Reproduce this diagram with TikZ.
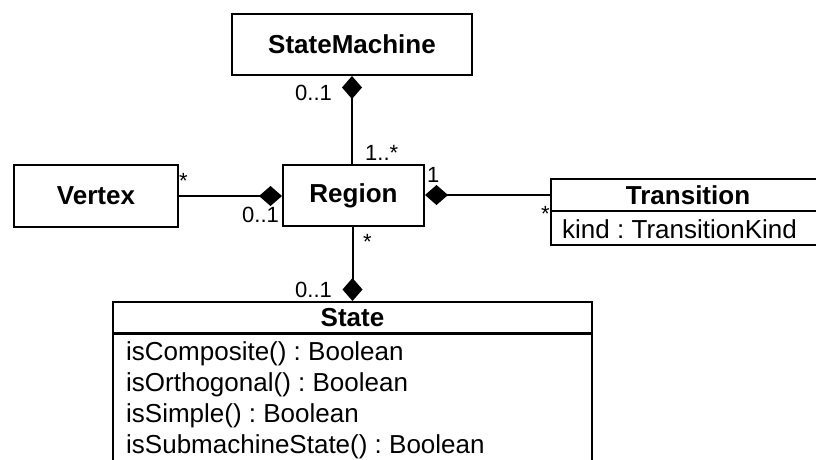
\documentclass[tikz,border=0pt]{standalone}
\usepackage{fontspec}
\setmainfont{Liberation Sans}
\usetikzlibrary{arrows.meta}
\frenchspacing
\tikzset{
  cls/.style={draw, line width=2pt, inner sep=0pt, font=\fontsize{26}{30}\selectfont\bfseries},
  part/.style={draw, line width=2pt, inner sep=0pt},
  attr/.style={inner sep=0pt, font=\fontsize{26}{30}\selectfont},
  lab/.style={inner sep=0pt, font=\fontsize{22}{26}\selectfont},
  comp/.style={line width=2pt, -{Diamond[length=23pt,width=20pt]}},
  compstart/.style={line width=2pt, {Diamond[length=23pt,width=20pt]}-}
}
\begin{document}
\begin{tikzpicture}[x=1pt,y=-1pt]
\useasboundingbox (0,0) rectangle (816,459);
\fill[white] (0,0) rectangle (816,459);
\clip (0,0) rectangle (816,459);
% classes
\node[cls, minimum width=240pt, minimum height=61pt] (sm) at (352,44.5) {StateMachine};
\node[cls, minimum width=164pt, minimum height=62pt] (vertex) at (96,196) {Vertex};
\node[cls, minimum width=141pt, minimum height=61pt] (region) at (353.5,195.5) {Region};
\node[cls, minimum width=274pt, minimum height=32pt] (trans) at (688,195) {Transition};
\node[part, minimum width=274pt, minimum height=34pt] (transattr) at (688,228) {};
\node[attr, anchor=base west] (kind) at (562,238) {kind : TransitionKind};
\node[cls, minimum width=479pt, minimum height=31pt] (state) at (352.5,317.5) {State};
\node[part, minimum width=479pt, minimum height=160pt, anchor=north] (stateattr) at (352.5,333) {};
\node[attr, anchor=base west] (a1) at (126,360) {isComposite() : Boolean};
\node[attr, anchor=base west] (a2) at (126,391) {isOrthogonal() : Boolean};
\node[attr, anchor=base west] (a3) at (126,422) {isSimple() : Boolean};
\node[attr, anchor=base west] (a4) at (126,453) {isSubmachineState() : Boolean};
% connectors
\draw[comp] (sm.south |- region.north) -- (sm.south);
\draw[comp] (vertex.east) -- (vertex.east -| region.west);
\draw[compstart] (trans.west -| region.east) -- (trans.west);
\draw[comp] (state.north |- region.south) -- (state.north);
% multiplicities
\node[lab, anchor=base west] (m1) at (295,100) {0..1};
\node[lab, anchor=base west] (m2) at (365,160) {1..*};
\node[lab, anchor=base west] (m3) at (427,182) {1};
\node[lab, anchor=base west] (m4) at (179,188) {*};
\node[lab, anchor=base west] (m5) at (242,222) {0..1};
\node[lab, anchor=base west] (m6) at (363,249) {*};
\node[lab, anchor=base west] (m7) at (541,221) {*};
\node[lab, anchor=base west] (m8) at (295,297) {0..1};
\end{tikzpicture}
\end{document}
